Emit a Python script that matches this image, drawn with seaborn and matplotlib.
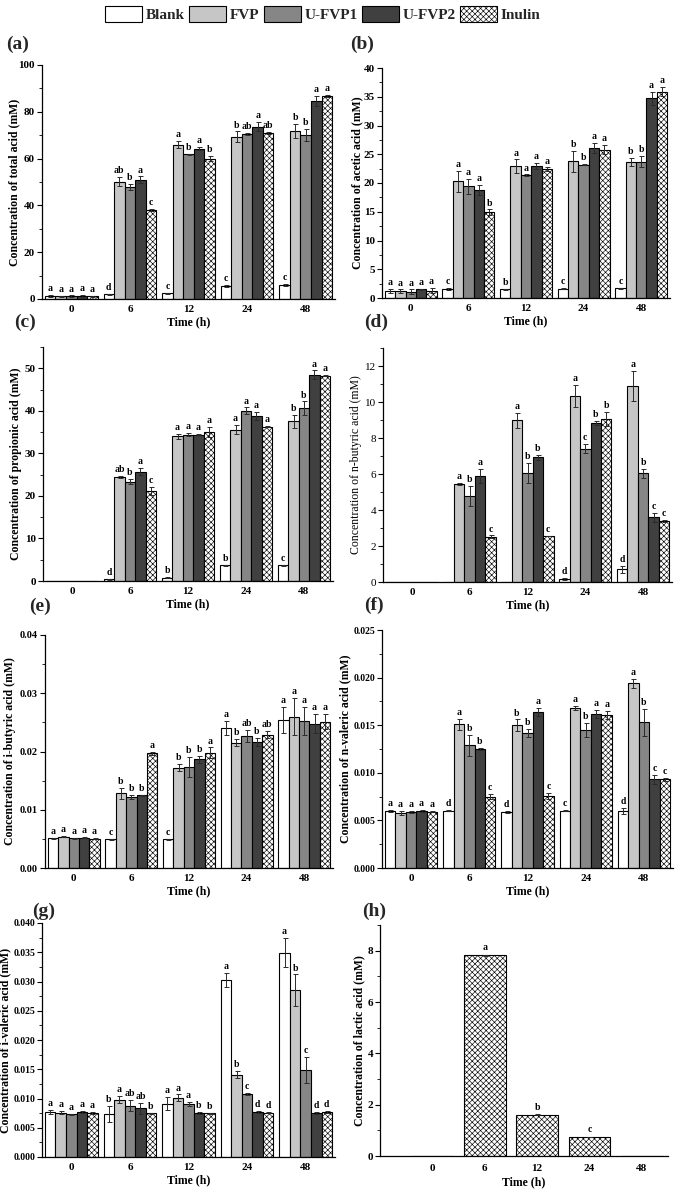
import numpy as np
import pandas as pd
import matplotlib
matplotlib.use('Agg')
import matplotlib.pyplot as plt
import seaborn as sns
from matplotlib.patches import Patch
from matplotlib.container import BarContainer
from matplotlib.ticker import MultipleLocator, FormatStrFormatter

sns.set_theme(style='white')
plt.rcParams['font.family'] = ['Liberation Serif', 'DejaVu Serif']
plt.rcParams['font.weight'] = 'bold'
plt.rcParams['axes.labelweight'] = 'bold'
plt.rcParams['hatch.linewidth'] = 0.45

# ---------------- data ----------------
times = ['0', '6', '12', '24', '48']
groups = ['Blank', 'FVP', 'U-FVP1', 'U-FVP2', 'Inulin']
colors = ['#ffffff', '#c6c6c6', '#868686', '#404040', '#ffffff']

# (a) total acid  (rows = groups, cols = times)
total_mean = [[1.3, 2.0, 2.5, 5.5, 6.0],
              [1.1, 50.2, 65.9, 69.4, 71.9],
              [1.2, 47.8, 61.9, 70.4, 70.2],
              [1.3, 51.0, 64.3, 73.7, 84.6],
              [1.1, 37.9, 60.0, 71.1, 86.9]]
total_err = [[0.3, 0.2, 0.2, 0.4, 0.3],
             [0.3, 2.0, 1.5, 2.2, 3.0],
             [0.3, 1.2, 0.2, 0.4, 2.6],
             [0.3, 1.4, 0.5, 1.8, 2.3],
             [0.3, 0.5, 1.2, 0.4, 0.4]]
total_let = [['a', 'd', 'c', 'c', 'c'],
             ['a', 'ab', 'a', 'b', 'b'],
             ['a', 'b', 'b', 'ab', 'b'],
             ['a', 'a', 'a', 'a', 'a'],
             ['a', 'c', 'b', 'ab', 'a']]

# (b) acetic acid
acetic_mean = [[1.2, 1.6, 1.5, 1.6, 1.7],
               [1.2, 20.3, 22.9, 23.8, 23.6],
               [1.1, 19.4, 21.4, 23.2, 23.7],
               [1.5, 18.8, 23.0, 26.1, 34.7],
               [1.3, 14.9, 22.4, 25.8, 35.9]]
acetic_err = [[0.4, 0.2, 0.15, 0.1, 0.1],
              [0.3, 1.8, 1.2, 1.8, 0.7],
              [0.4, 1.3, 0.1, 0.15, 1.0],
              [0.1, 0.8, 0.5, 0.8, 1.2],
              [0.4, 0.5, 0.3, 0.8, 0.8]]
acetic_let = [['a', 'c', 'b', 'c', 'c'],
              ['a', 'a', 'a', 'b', 'b'],
              ['a', 'a', 'a', 'b', 'b'],
              ['a', 'a', 'a', 'a', 'a'],
              ['a', 'b', 'a', 'a', 'a']]

# (c) propionic acid
prop_mean = [[0, 0.4, 0.8, 3.7, 3.7],
             [0, 24.4, 34.0, 35.6, 37.5],
             [0, 23.3, 34.4, 40.0, 40.6],
             [0, 25.7, 34.4, 38.8, 48.5],
             [0, 21.1, 35.0, 36.3, 48.3]]
prop_err = [[0, 0.1, 0.1, 0.15, 0.1],
            [0, 0.3, 0.6, 1.0, 1.5],
            [0, 0.6, 0.3, 0.8, 1.6],
            [0, 0.9, 0.1, 1.0, 1.0],
            [0, 1.0, 1.2, 0.1, 0.2]]
prop_let = [['', 'd', 'b', 'b', 'c'],
            ['', 'ab', 'a', 'a', 'b'],
            ['', 'b', 'a', 'a', 'b'],
            ['', 'a', 'a', 'a', 'a'],
            ['', 'c', 'a', 'a', 'a']]

# (d) n-butyric acid
nbut_mean = [[0, 0, 0, 0.17, 0.7],
             [0, 5.43, 8.98, 10.33, 10.9],
             [0, 4.8, 6.05, 7.4, 6.05],
             [0, 5.9, 6.93, 8.82, 3.6],
             [0, 2.51, 2.55, 9.07, 3.4]]
nbut_err = [[0, 0, 0, 0.05, 0.2],
            [0, 0.05, 0.4, 0.6, 0.85],
            [0, 0.55, 0.55, 0.25, 0.25],
            [0, 0.4, 0.15, 0.12, 0.25],
            [0, 0.08, 0.02, 0.4, 0.05]]
nbut_let = [['', '', '', 'd', 'd'],
            ['', 'a', 'a', 'a', 'a'],
            ['', 'b', 'b', 'c', 'b'],
            ['', 'a', 'b', 'b', 'c'],
            ['', 'c', 'c', 'b', 'c']]

# (e) i-butyric acid
ibut_mean = [[0.0051, 0.0049, 0.0049, 0.0240, 0.0254],
             [0.0054, 0.0128, 0.0172, 0.0215, 0.0260],
             [0.0051, 0.0122, 0.0174, 0.0227, 0.0252],
             [0.0052, 0.0125, 0.0187, 0.0216, 0.0248],
             [0.0050, 0.0197, 0.0198, 0.0229, 0.0251]]
ibut_err = [[0.0001, 0.0001, 0.0001, 0.0012, 0.0023],
            [0.0001, 0.0010, 0.0006, 0.0006, 0.0032],
            [0.0001, 0.0004, 0.0017, 0.0010, 0.0024],
            [0.0001, 0.0001, 0.0006, 0.0007, 0.0017],
            [0.0001, 0.0003, 0.0009, 0.0006, 0.0013]]
ibut_let = [['a', 'c', 'c', 'a', 'a'],
            ['a', 'b', 'b', 'b', 'a'],
            ['a', 'b', 'b', 'ab', 'a'],
            ['a', 'b', 'b', 'b', 'a'],
            ['a', 'a', 'a', 'ab', 'a']]

# (f) n-valeric acid
nval_mean = [[0.0060, 0.0060, 0.0059, 0.0060, 0.0060],
             [0.0058, 0.0151, 0.0150, 0.0168, 0.0194],
             [0.0059, 0.0129, 0.0142, 0.0145, 0.0153],
             [0.0060, 0.0125, 0.0164, 0.0162, 0.0093],
             [0.0059, 0.0075, 0.0076, 0.0161, 0.0093]]
nval_err = [[0.0001, 0.00005, 0.0001, 0.00005, 0.0003],
            [0.0002, 0.0006, 0.0006, 0.0002, 0.0005],
            [0.0001, 0.0011, 0.0004, 0.0007, 0.0014],
            [0.0001, 0.0001, 0.0004, 0.0004, 0.0005],
            [0.00005, 0.0003, 0.0003, 0.0004, 0.0002]]
nval_let = [['a', 'd', 'd', 'c', 'd'],
            ['a', 'a', 'b', 'a', 'a'],
            ['a', 'b', 'b', 'b', 'b'],
            ['a', 'b', 'a', 'a', 'c'],
            ['a', 'c', 'c', 'a', 'c']]

# (g) i-valeric acid
ival_mean = [[0.0077, 0.0073, 0.0091, 0.0302, 0.0349],
             [0.0076, 0.0098, 0.0101, 0.0141, 0.0285],
             [0.0073, 0.0088, 0.0091, 0.0108, 0.0149],
             [0.0077, 0.0083, 0.0075, 0.0077, 0.0075],
             [0.0075, 0.0075, 0.0075, 0.0076, 0.0077]]
ival_err = [[0.0003, 0.0014, 0.0011, 0.0012, 0.0025],
            [0.0002, 0.0006, 0.0006, 0.0006, 0.0027],
            [0.0001, 0.0009, 0.0003, 0.0002, 0.0022],
            [0.0002, 0.0010, 0.0002, 0.0001, 0.0002],
            [0.0002, 0.0001, 0.0001, 0.0001, 0.0001]]
ival_let = [['a', 'b', 'a', 'a', 'a'],
            ['a', 'a', 'a', 'b', 'b'],
            ['a', 'ab', 'a', 'c', 'c'],
            ['a', 'ab', 'b', 'd', 'd'],
            ['a', 'b', 'b', 'd', 'd']]

# (h) lactic acid (Inulin only)
lactic_mean = [0, 7.82, 1.6, 0.74, 0]
lactic_err = [0, 0.02, 0.02, 0.01, 0]
lactic_let = ['', 'a', 'b', 'c', '']

# ---------------- figure ----------------
W, H = 680, 1195
fig = plt.figure(figsize=(W / 100, H / 100), dpi=100)


def add_ax(l, r, t, b):
    return fig.add_axes([l / W, 1 - b / H, (r - l) / W, (b - t) / H])


HATCH = 'xxxxxx'
EB = dict(fmt='none', ecolor='#2a2a2a', elinewidth=0.7, capsize=1.8, capthick=0.7, zorder=4)


def style_axis(ax, ylim, major, fmt, ylabel, label_x_px, l, r, tag, tag_xy, weight='bold',
               ytick_size=8):
    ax.set_ylim(*ylim)
    ax.yaxis.set_major_locator(MultipleLocator(major))
    ax.yaxis.set_minor_locator(MultipleLocator(major / 2))
    ax.yaxis.set_major_formatter(FormatStrFormatter(fmt))
    for s in ['top', 'right']:
        ax.spines[s].set_visible(False)
    for s in ['left', 'bottom']:
        ax.spines[s].set_color('black')
        ax.spines[s].set_linewidth(0.9)
    ax.tick_params(axis='y', which='major', direction='out', length=3.5, width=0.8,
                   labelsize=ytick_size, left=True, pad=1.5, colors='black')
    ax.tick_params(axis='y', which='minor', direction='out', length=2, width=0.7, left=True)
    ax.tick_params(axis='x', length=0, labelsize=8, pad=4, colors='black')
    for t in ax.get_yticklabels():
        t.set_fontweight(weight)
    ax.set_ylabel(ylabel, fontsize=8.5, fontweight=weight, color='black')
    ax.yaxis.set_label_coords((label_x_px - l) / (r - l), 0.5)
    ax.set_xlabel('Time (h)', fontsize=8.5, fontweight='bold', color='black', labelpad=2)
    ax.set_facecolor('white')
    fig.text(tag_xy[0] / W, 1 - tag_xy[1] / H, tag, fontsize=14, fontweight='bold',
             ha='left', va='center')


def grouped(ax, mean, err, letters, ylim_top):
    rows = []
    for g, vals in zip(groups, mean):
        for t, v in zip(times, vals):
            rows.append({'time': t, 'group': g, 'value': v})
    df = pd.DataFrame(rows)
    sns.barplot(data=df, x='time', y='value', hue='group', order=times, hue_order=groups,
                palette=dict(zip(groups, colors)), saturation=1, width=0.9, gap=0,
                edgecolor='black', linewidth=0.8, errorbar=None, legend=False, ax=ax)
    off = ylim_top * 0.008
    conts = [c for c in ax.containers if isinstance(c, BarContainer)]
    for gi, cont in enumerate(conts):
        bars = sorted(cont.patches, key=lambda p: p.get_x())
        for ti, bar in enumerate(bars):
            if groups[gi] == 'Inulin':
                bar.set_hatch(HATCH)
            x = bar.get_x() + bar.get_width() / 2
            v = mean[gi][ti]
            e = err[gi][ti]
            if e > 0:
                ax.errorbar([x], [v], yerr=[e], **EB)
            if letters[gi][ti]:
                ax.text(x, v + e + off, letters[gi][ti], ha='center', va='bottom',
                        fontsize=7, fontweight='bold', color='black')
    ax.set_xlim(-0.5, 4.5)


# (a)
ax = add_ax(42, 335, 65, 299)
grouped(ax, total_mean, total_err, total_let, 100)
style_axis(ax, (0, 100), 20, '%d', 'Concentration of total acid (mM)', 20, 42, 335, '(a)', (6, 44))

# (b)
ax = add_ax(382, 670, 68, 298)
grouped(ax, acetic_mean, acetic_err, acetic_let, 40)
style_axis(ax, (0, 40), 5, '%d', 'Concentration of acetic acid (mM)', 363, 382, 670, '(b)', (350, 44))

# (c)
ax = add_ax(43, 333, 347, 581)
grouped(ax, prop_mean, prop_err, prop_let, 55)
style_axis(ax, (0, 55), 10, '%d', 'Concentration of propionic acid (mM)', 22, 43, 333, '(c)', (14, 322))

# (d)
ax = add_ax(383, 672, 348, 582)
grouped(ax, nbut_mean, nbut_err, nbut_let, 13)
style_axis(ax, (0, 13), 2, '%d', 'Concentration of n-butyric acid (mM)', 362, 383, 672, '(d)', (364, 322),
           weight='normal')

# (e)
ax = add_ax(45, 333, 635, 868)
grouped(ax, ibut_mean, ibut_err, ibut_let, 0.04)
style_axis(ax, (0, 0.04), 0.01, '%.2f', 'Concentration of i-butyric acid (mM)', 16, 45, 333, '(e)', (29, 606),
           ytick_size=7.5)

# (f)
ax = add_ax(382, 673, 630, 868)
grouped(ax, nval_mean, nval_err, nval_let, 0.025)
style_axis(ax, (0, 0.025), 0.005, '%.3f', 'Concentration of n-valeric acid (mM)', 351, 382, 673, '(f)', (364, 605),
           ytick_size=7)

# (g)
ax = add_ax(42, 335, 923, 1157)
grouped(ax, ival_mean, ival_err, ival_let, 0.04)
style_axis(ax, (0, 0.040), 0.005, '%.3f', 'Concentration of i-valeric acid (mM)', 11, 42, 335, '(g)', (32, 911),
           ytick_size=7)

# (h)
ax = add_ax(380, 668, 925, 1156)
dfh = pd.DataFrame({'time': times, 'value': lactic_mean})
sns.barplot(data=dfh, x='time', y='value', order=times, color='white', saturation=1, width=0.8,
            edgecolor='black', linewidth=0.8, errorbar=None, ax=ax)
hbars = [c for c in ax.containers if isinstance(c, BarContainer)][0]
bars = sorted(hbars.patches, key=lambda p: p.get_x())
for ti, bar in enumerate(bars):
    bar.set_hatch(HATCH)
    x = bar.get_x() + bar.get_width() / 2
    v, e = lactic_mean[ti], lactic_err[ti]
    if e > 0:
        ax.errorbar([x], [v], yerr=[e], **EB)
    if lactic_let[ti]:
        ax.text(x, v + e + 0.1, lactic_let[ti], ha='center', va='bottom', fontsize=7,
                fontweight='bold', color='black')
ax.set_xlim(-1, 4.5)
style_axis(ax, (0, 9), 2, '%d', 'Concentration of lactic acid (mM)', 365, 380, 668, '(h)', (362, 911))
ax.tick_params(axis='x', length=3, width=0.8, direction='out', pad=3)

# legend
handles = []
for g, c in zip(groups, colors):
    handles.append(Patch(facecolor=c, edgecolor='black', linewidth=0.8,
                         hatch=HATCH if g == 'Inulin' else None, label=g))
fig.legend(handles=handles, loc='center', bbox_to_anchor=(323 / W, 1 - 14 / H), ncol=5,
           frameon=False, prop={'size': 11, 'weight': 'bold'}, handlelength=2.4,
           handleheight=1.2, handletextpad=0.25, columnspacing=0.3, borderpad=0)

fig.savefig('out.png', dpi=100, facecolor='white')
